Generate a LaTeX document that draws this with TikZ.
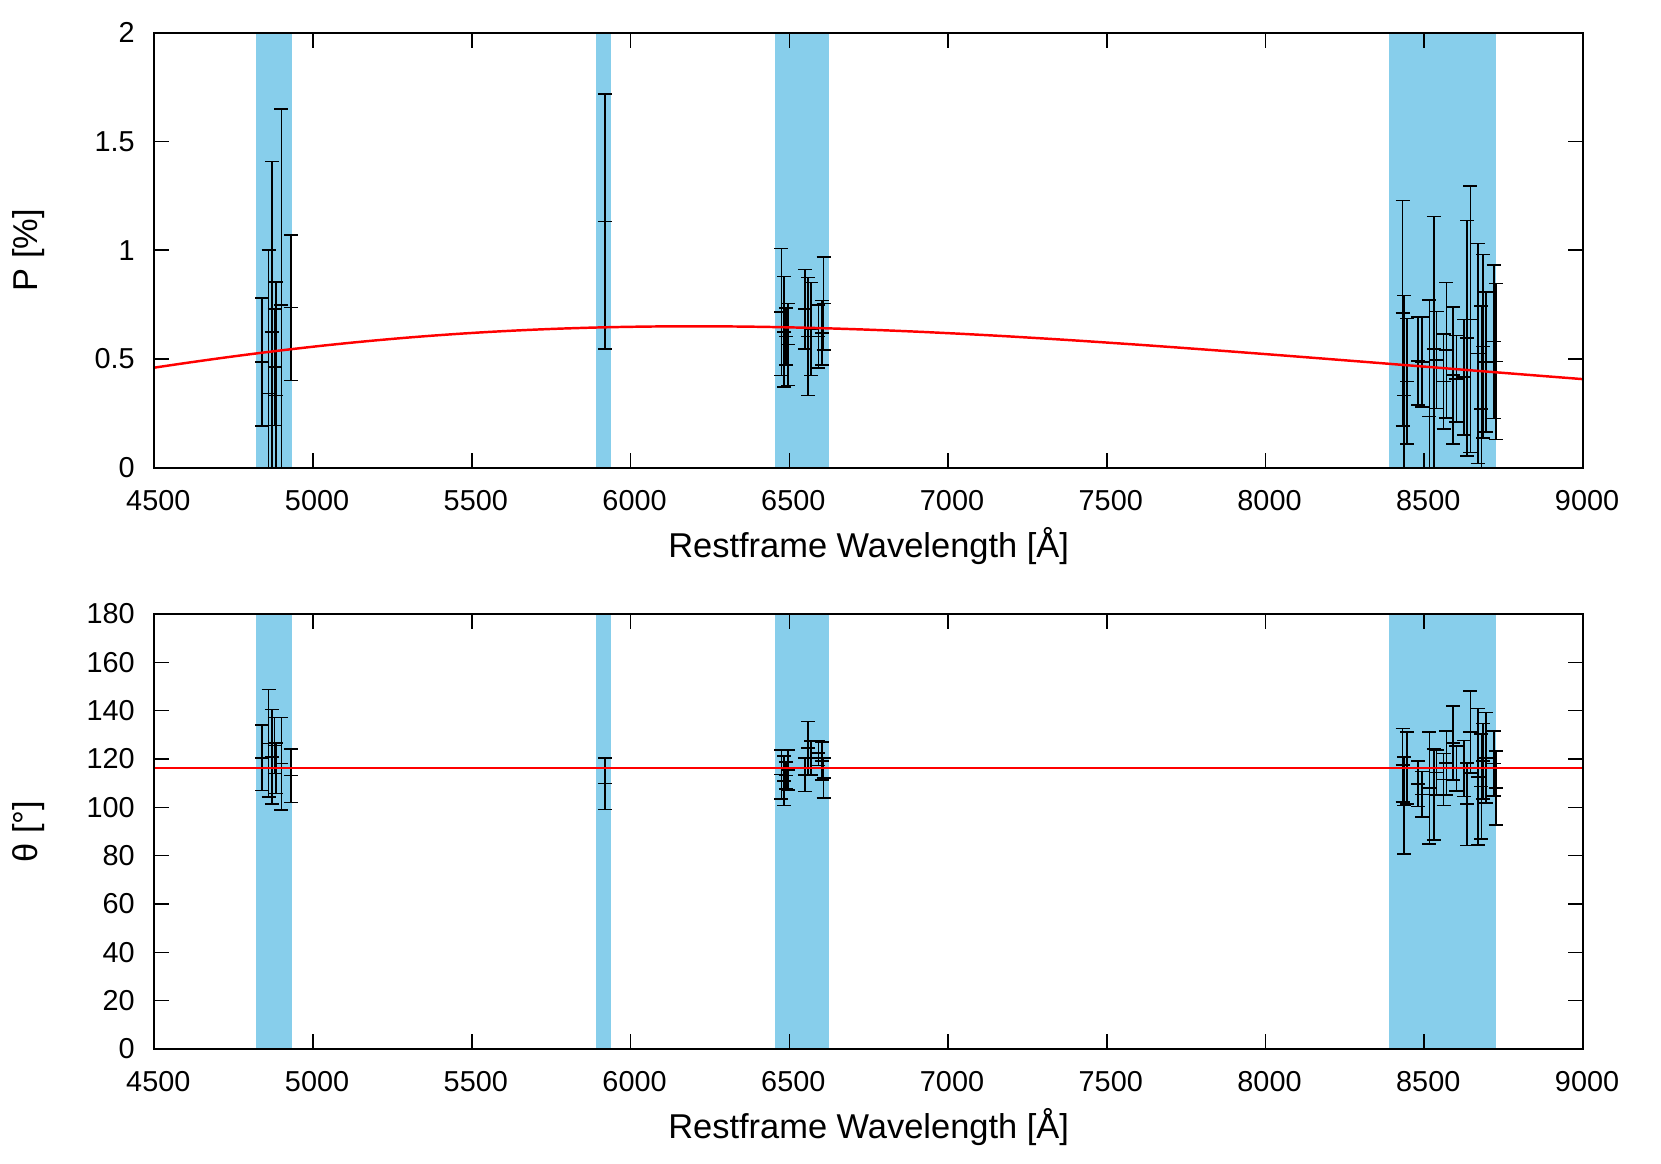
\documentclass[tikz,border=0pt]{standalone}
\usepackage{fontspec}
\setmainfont{Liberation Sans}
\usepackage{tikz}
\usetikzlibrary{positioning}
\definecolor{bandCol}{RGB}{135, 206, 235}
\tikzset{myFrameLine/.style={line width=0.6pt,color=black}}
\tikzset{myTickLine/.style={line width=0.45pt,color=black}}
\tikzset{myErrBar/.style={line width=0.45pt,color=black}}
\tikzset{myFitLine/.style={line width=0.7pt,color=red}}
\tikzset{myTickLab/.style={inner sep=0pt,font=\fontsize{8.2}{9}\selectfont}}
\tikzset{myAxisLab/.style={inner sep=0pt,font=\fontsize{9.8}{11}\selectfont}}
\newcommand{\pw}{14.287}
\newcommand{\ph}{4.35}
\newcommand{\tk}{0.15}
\newcommand{\cw}{0.07}

\begin{document}
\begin{tikzpicture}[]
	\useasboundingbox (0,0) rectangle (16.61,11.63);

	% ---- top panel: P [%]
	\begin{scope}[shift={(1.543,6.953)}]
		\foreach \a/\b in {4820/4935,5890/5938,6455/6625,8390/8725}
			\fill[bandCol]({(\a-4500)/4500*\pw},0) rectangle ({(\b-4500)/4500*\pw},\ph);
		\begin{scope}
			\clip(0,0) rectangle (\pw,\ph);
			\foreach \l/\p/\e in {4840/0.486/0.295, 4860/0.342/0.658, 4870/0.624/0.783, 4879/0.462/0.268,
				4884/0.332/0.523, 4900/0.749/0.900, 4930/0.736/0.335, 5919/1.132/0.585,
				6475/0.715/0.292, 6484/0.625/0.255, 6489/0.603/0.132, 6496/0.566/0.188,
				6549/0.729/0.183, 6559/0.603/0.272, 6569/0.638/0.214, 6592/0.603/0.145,
				6603/0.620/0.148, 6608/0.754/0.214,
				8432/0.710/0.519, 8437/0.332/0.459, 8446/0.397/0.288, 8481/0.491/0.203,
				8493/0.485/0.207, 8516/0.235/0.537, 8530/0.547/0.607, 8539/0.495/0.223,
				8561/0.397/0.219, 8570/0.540/0.312, 8591/0.425/0.315, 8601/0.408/0.199,
				8626/0.416/0.265, 8635/0.595/0.542, 8645/0.682/0.613, 8669/0.525/0.505,
				8680/0.271/0.473, 8685/0.558/0.422, 8694/0.486/0.323, 8719/0.580/0.353,
				8725/0.488/0.358}{
				\pgfmathsetmacro{\bx}{(\l-4500)/4500*\pw}
				\pgfmathsetmacro{\lo}{(\p-\e)/2*\ph}
				\pgfmathsetmacro{\md}{\p/2*\ph}
				\pgfmathsetmacro{\hi}{(\p+\e)/2*\ph}
				\draw[myErrBar](\bx,\lo)--(\bx,\hi) (\bx-\cw,\lo)--(\bx+\cw,\lo)
					(\bx-\cw,\md)--(\bx+\cw,\md) (\bx-\cw,\hi)--(\bx+\cw,\hi);
			}
			\draw[myFitLine, domain=4500:9000, samples=120, variable=\x] plot ({(\x-4500)/4500*\pw},{0.65*exp(-3.37*(ln(6200/\x))^2)/2*\ph});
		\end{scope}
		\foreach \v in {4500,5000,...,9000}{
			\pgfmathsetmacro{\tx}{(\v-4500)/4500*\pw}
			\draw[myTickLine](\tx,0)--(\tx,\tk) (\tx,\ph)--(\tx,\ph-\tk);
			\node[myTickLab] (pxl\v) at (\tx+0.04,-0.33) {\v};
		}
		\foreach \v [count=\i] in {0,0.5,1,1.5,2}{
			\draw[myTickLine](0,\v/2*\ph)--(\tk,\v/2*\ph) (\pw,\v/2*\ph)--(\pw-\tk,\v/2*\ph);
			\node[myTickLab, anchor=east] (pyl\i) at (-0.19,\v/2*\ph) {\v};
		}
		\draw[myFrameLine](0,0) rectangle (\pw,\ph);
		\node[myAxisLab] (pXLab) at (\pw/2,-0.785) {Restframe Wavelength [Å]};
		\node[myAxisLab, rotate=90] (pYLab) at (-1.258,\ph/2) {P [\%]};
	\end{scope}

	% ---- bottom panel: theta [deg]
	\begin{scope}[shift={(1.543,1.14)}]
		\foreach \a/\b in {4820/4935,5890/5938,6455/6625,8390/8725}
			\fill[bandCol]({(\a-4500)/4500*\pw},0) rectangle ({(\b-4500)/4500*\pw},\ph);
		\begin{scope}
			\clip(0,0) rectangle (\pw,\ph);
			\foreach \l/\t/\e in {4840/120.5/13.5, 4860/126.5/22.2, 4870/120.9/19.5, 4879/125.6/11.6,
				4884/116.2/10.4, 4900/118.1/19.1, 4930/113.1/11.1, 5919/109.8/10.7,
				6475/113.6/10.2, 6484/111.0/10.3, 6489/113.1/5.6, 6496/115.5/8.3,
				6549/113.5/7.0, 6559/124.5/11.0, 6569/120.5/7.0, 6592/122.4/5.1,
				6603/119.2/7.8, 6608/112.2/8.3,
				8432/117.5/15.2, 8437/100.7/20.1, 8446/116.2/14.9, 8481/109.7/9.4,
				8493/105.4/9.4, 8516/108.0/23.1, 8530/105.3/18.8, 8539/114.4/9.3,
				8561/111.5/10.8, 8570/118.4/13.3, 8591/126.6/15.3, 8601/116.1/9.4,
				8626/116.1/11.6, 8635/101.3/17.1, 8645/131.1/17.0, 8669/112.6/28.3,
				8680/108.6/21.8, 8685/119.1/15.6, 8694/120.5/18.7, 8719/118.1/13.5,
				8725/108.0/15.2}{
				\pgfmathsetmacro{\bx}{(\l-4500)/4500*\pw}
				\pgfmathsetmacro{\lo}{(\t-\e)/180*\ph}
				\pgfmathsetmacro{\md}{\t/180*\ph}
				\pgfmathsetmacro{\hi}{(\t+\e)/180*\ph}
				\draw[myErrBar](\bx,\lo)--(\bx,\hi) (\bx-\cw,\lo)--(\bx+\cw,\lo)
					(\bx-\cw,\md)--(\bx+\cw,\md) (\bx-\cw,\hi)--(\bx+\cw,\hi);
			}
		\end{scope}
		\coordinate (fitL) at (0,{116.2/180*\ph});
		\coordinate (fitR) at (\pw,{116.2/180*\ph});
		\draw[myFitLine](fitL) -- (fitR);
		\foreach \v in {4500,5000,...,9000}{
			\pgfmathsetmacro{\tx}{(\v-4500)/4500*\pw}
			\draw[myTickLine](\tx,0)--(\tx,\tk) (\tx,\ph)--(\tx,\ph-\tk);
			\node[myTickLab] (txl\v) at (\tx+0.04,-0.33) {\v};
		}
		\foreach \v in {0,20,...,180}{
			\draw[myTickLine](0,\v/180*\ph)--(\tk,\v/180*\ph) (\pw,\v/180*\ph)--(\pw-\tk,\v/180*\ph);
			\node[myTickLab, anchor=east] (tyl\v) at (-0.19,\v/180*\ph) {\v};
		}
		\draw[myFrameLine](0,0) rectangle (\pw,\ph);
		\node[myAxisLab] (tXLab) at (\pw/2,-0.785) {Restframe Wavelength [Å]};
		\node[myAxisLab, rotate=90] (tYLab) at (-1.258,\ph/2) {θ [°]};
	\end{scope}
\end{tikzpicture}
\end{document}
